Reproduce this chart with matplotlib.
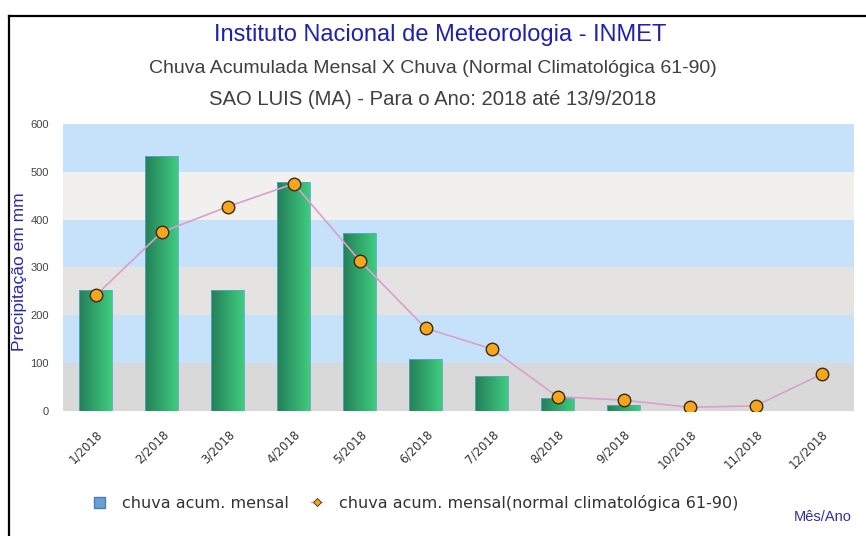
import numpy as np
import matplotlib
matplotlib.use("Agg")
import matplotlib.pyplot as plt
from matplotlib.colors import LinearSegmentedColormap
from matplotlib.lines import Line2D
from matplotlib.patches import Patch

# data
months = ['1/2018', '2/2018', '3/2018', '4/2018', '5/2018', '6/2018',
          '7/2018', '8/2018', '9/2018', '10/2018', '11/2018', '12/2018']
chuva_mensal = [253, 532, 253, 479, 373, 109, 74, 27, 12, 0, 0, 0]
chuva_normal = [242, 374, 427, 475, 314, 173, 130, 30, 23, 8, 11, 77]
y_ticks = [0, 100, 200, 300, 400, 500, 600]

band_colors = ['#d9d9d9', '#c6e1fa', '#e5e3e1', '#c6e1fa', '#f2f0ee', '#c6e1fa']

plt.rcParams['font.family'] = ['Liberation Sans', 'DejaVu Sans']

fig = plt.figure(figsize=(8.66, 5.36), dpi=100)
ax = fig.add_axes([0.0727, 0.233, 0.914, 0.536])

x = np.arange(len(months))

# background bands
for i in range(len(y_ticks) - 1):
    ax.axhspan(y_ticks[i], y_ticks[i + 1], color=band_colors[i], lw=0, zorder=0)

# bars with horizontal gradient
bars = ax.bar(x, chuva_mensal, width=0.5, facecolor='none', edgecolor='#5aa8c8',
              linewidth=0.6, zorder=3)
grad = np.linspace(0, 1, 256).reshape(1, -1)
cmap = LinearSegmentedColormap.from_list('verde', ['#247f58', '#3fcc80'])
for b in bars:
    x0, y0 = b.get_xy()
    w, h = b.get_width(), b.get_height()
    if h <= 0:
        continue
    im = ax.imshow(grad, extent=[x0, x0 + w, y0, y0 + h], aspect='auto',
                   cmap=cmap, zorder=2)
    im.set_clip_path(b)

# normal line
ax.plot(x, chuva_normal, color='#d9a0cc', lw=1.2, zorder=4)
ax.plot(x, chuva_normal, ls='none', marker='o', ms=9, mfc='#f5a51e',
        mec='#3a2a10', mew=1.0, zorder=5)

ax.set_xlim(-0.5, len(months) - 0.5)
ax.set_ylim(0, 600)
ax.set_aspect('auto')
ax.set_yticks(y_ticks)
ax.set_yticklabels([str(v) for v in y_ticks], fontsize=8, color='#444444')
ax.set_xticks(x)
ax.set_xticklabels(months, rotation=45, ha='right', rotation_mode='anchor',
                   fontsize=8.5, color='#333333', family='DejaVu Sans')
ax.tick_params(axis='both', length=0)
ax.tick_params(axis='y', pad=10)
ax.tick_params(axis='x', pad=12)
for s in ax.spines.values():
    s.set_visible(False)

# titles
fig.text(0.508, 0.935, 'Instituto Nacional de Meteorologia - INMET',
         ha='center', va='center', fontsize=17, color='#2020b0')
fig.text(0.500, 0.873, 'Chuva Acumulada Mensal X Chuva (Normal Climatológica 61-90)',
         ha='center', va='center', fontsize=14, color='#404040')
fig.text(0.499, 0.815, 'SAO LUIS (MA) - Para o Ano: 2018 até 13/9/2018',
         ha='center', va='center', fontsize=14.6, color='#404040')

fig.text(0.023, 0.4925, 'Precipitação em mm', rotation=90, ha='center',
         va='center', fontsize=12.5, color='#2a2ab0')
fig.text(0.950, 0.035, 'Mês/Ano', ha='center', va='center', fontsize=10.5,
         color='#30309a')

handles = [
    Patch(facecolor='#6a9fd4', edgecolor='#4a7fb4', label='chuva acum. mensal'),
    Line2D([0], [0], color='#d9a0cc', lw=1, marker='D', ms=4, mfc='#f5a51e',
           mec='#3a2a10', mew=0.6,
           label='chuva acum. mensal(normal climatológica 61-90)'),
]
fig.legend(handles=handles, loc='center left', bbox_to_anchor=(0.1085, 0.062),
           ncol=2, frameon=False, prop={'family': 'DejaVu Sans', 'size': 11.5},
           handlelength=0.7, handleheight=0.7, columnspacing=1.4,
           handletextpad=1.05, labelcolor='#333333', borderpad=0,
           borderaxespad=0)

# outer frame (left and top edges)
fig.add_artist(Line2D([9 / 866, 9 / 866], [0, 1 - 16 / 536], color='black',
                      lw=1.6, transform=fig.transFigure))
fig.add_artist(Line2D([9 / 866, 1], [1 - 16 / 536, 1 - 16 / 536], color='black',
                      lw=1.6, transform=fig.transFigure))

fig.savefig('out.png', dpi=100)
